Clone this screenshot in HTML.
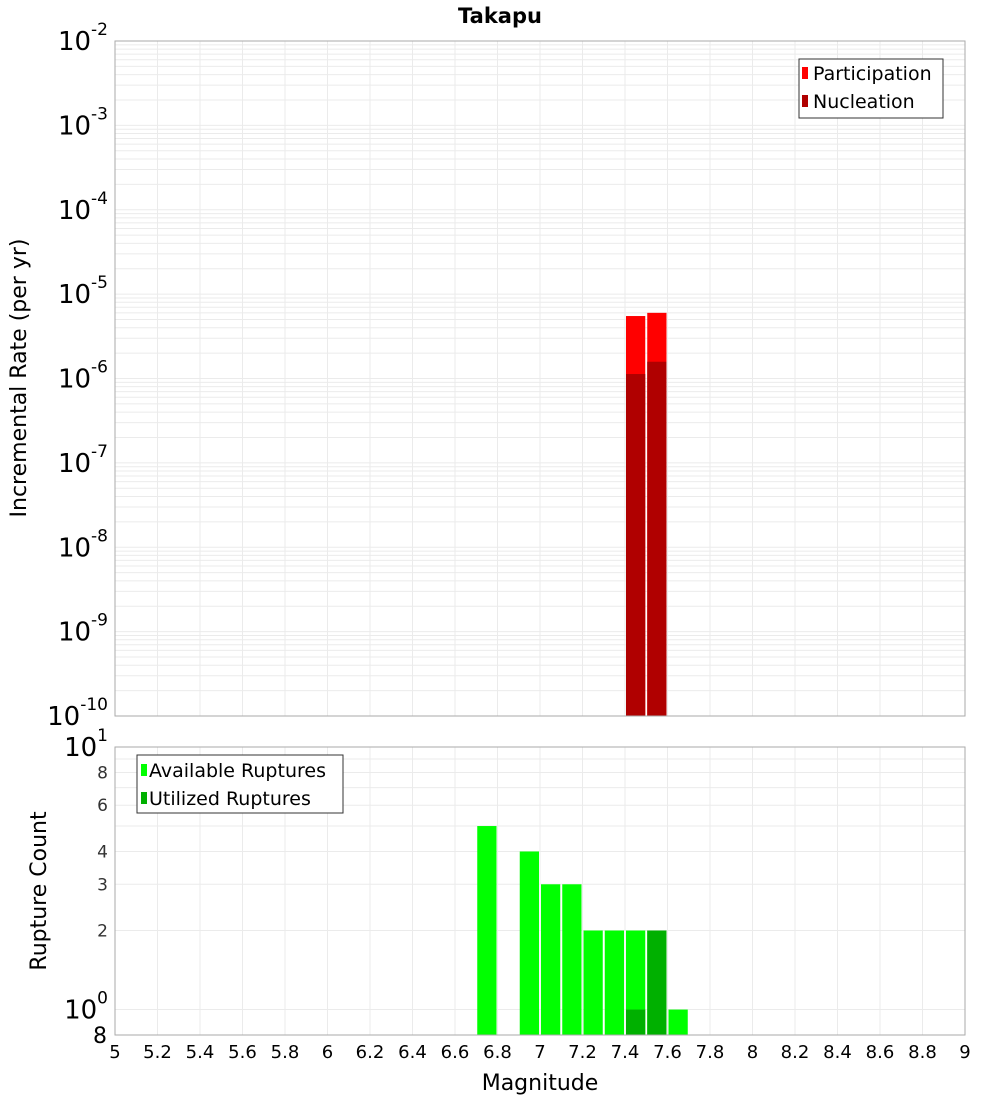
<!DOCTYPE html>
<html><head><meta charset="utf-8"><style>
body{margin:0;background:#fff}
svg{display:block;font-family:"DejaVu Sans","Liberation Sans",sans-serif}
</style></head><body>
<svg id="c" width="1000" height="1100" viewBox="0 0 1000 1100">
<rect width="1000" height="1100" fill="#fff"/>
<text x="500" y="23" text-anchor="middle" font-size="21" font-weight="bold">Takapu</text>
<g id="topg"></g><g id="botg"></g>
<text transform="translate(26,378) rotate(-90)" text-anchor="middle" font-size="22">Incremental Rate (per yr)</text>
<text transform="translate(46,891) rotate(-90)" text-anchor="middle" font-size="22">Rupture Count</text>
<text x="540" y="1090" text-anchor="middle" font-size="22">Magnitude</text>
<g>
<rect x="799" y="59" width="144" height="59" fill="#fff" stroke="#333"/>
<rect x="802" y="67" width="6" height="12" fill="#ff0000"/>
<text x="813" y="80" font-size="19">Participation</text>
<rect x="802" y="95" width="6" height="12" fill="#b00000"/>
<text x="813" y="108" font-size="19">Nucleation</text>
</g>
<g>
<rect x="137" y="755" width="206" height="58" fill="#fff" stroke="#333"/>
<rect x="141" y="764" width="6" height="12" fill="#00ff00"/>
<text x="149" y="777" font-size="19">Available Ruptures</text>
<rect x="141" y="792" width="6" height="12" fill="#00b000"/>
<text x="149" y="805" font-size="19">Utilized Ruptures</text>
</g>
</svg>
<script>
const partMags=[7.45,7.55];
const partVals=[5.5e-6,6.0e-6];
const nuclMags=[7.45,7.55];
const nuclVals=[1.13e-6,1.58e-6];
const availMags=[6.75,6.95,7.05,7.15,7.25,7.35,7.45,7.55,7.65];
const availVals=[5,4,3,3,2,2,2,2,1];
const utilMags=[7.45,7.55];
const utilVals=[1,2];
const xTicks=[5,5.2,5.4,5.6,5.8,6,6.2,6.4,6.6,6.8,7,7.2,7.4,7.6,7.8,8,8.2,8.4,8.6,8.8,9];
const topExps=[-2,-3,-4,-5,-6,-7,-8,-9,-10];
const botMinorTicks=[8,6,4,3,2];

const NS="http://www.w3.org/2000/svg";
const X0=115,X1=965;
const xs=m=>X0+(m-5)/4*(X1-X0);
const TY0=41,TY1=716;
const yT=v=>TY0+(-2-Math.log10(v))/8*(TY1-TY0);
const BY0=747,BY1=1035,BL=Math.log10(0.8);
const yB=v=>BY0+(1-Math.log10(v))/(1-BL)*(BY1-BY0);
function mk(p,t,a){const e=document.createElementNS(NS,t);for(const k in a)e.setAttribute(k,a[k]);p.appendChild(e);return e;}
const gTop=document.getElementById('topg'),gBot=document.getElementById('botg'),svgEl=document.getElementById('c');

for(let e=-10;e<-2;e++)for(let k=1;k<10;k++){const y=yT(k*Math.pow(10,e));
const l=mk(gTop,'line',{x1:X0,x2:X1,y1:y,y2:y,stroke:'#ebebeb','stroke-width':1});

}
for(const t of xTicks){const l=mk(gTop,'line',{x1:xs(t),x2:xs(t),y1:TY0,y2:TY1,stroke:'#ebebeb'});

}
for(const v of [1,2,3,4,5,6,7,8,9]){const y=yB(v);const l=mk(gBot,'line',{x1:X0,x2:X1,y1:y,y2:y,stroke:'#ebebeb'});

}
for(const t of xTicks){const l=mk(gBot,'line',{x1:xs(t),x2:xs(t),y1:BY0,y2:BY1,stroke:'#ebebeb'});

}

function bar(g,m,v,yf,base,fill,name){const xa=xs(m-0.05)+1,xb=xs(m+0.05)-1,y=yf(v);
const r=mk(g,'rect',{x:xa,y:y,width:xb-xa,height:base-y,fill:fill});

}
partMags.forEach((m,i)=>bar(gTop,m,partVals[i],yT,TY1,'#ff0000','participation-bar'));
nuclMags.forEach((m,i)=>bar(gTop,m,nuclVals[i],yT,TY1,'#b00000','nucleation-bar'));
availMags.forEach((m,i)=>bar(gBot,m,availVals[i],yB,BY1,'#00ff00','available-bar'));
utilMags.forEach((m,i)=>bar(gBot,m,utilVals[i],yB,BY1,'#00b000','utilized-bar'));

mk(gTop,'rect',{x:X0,y:TY0,width:X1-X0,height:TY1-TY0,fill:'none',stroke:'#aaa'});
mk(gBot,'rect',{x:X0,y:BY0,width:X1-X0,height:BY1-BY0,fill:'none',stroke:'#aaa'});

for(const e of topExps){const y=yT(Math.pow(10,e));
const t=mk(svgEl,'text',{x:108,y:y+9,'text-anchor':'end','font-size':26});


t.innerHTML='10<tspan dy="-15" font-size="17">'+e+'</tspan>';}
[[10,'1'],[1,'0']].forEach(([v,s])=>{const y=yB(v);
const t=mk(svgEl,'text',{x:108,y:y+9,'text-anchor':'end','font-size':26});


t.innerHTML='10<tspan dy="-15" font-size="17">'+s+'</tspan>';});
for(const v of botMinorTicks){const t=mk(svgEl,'text',{x:108,y:yB(v)+6,'text-anchor':'end','font-size':17,fill:'#333'});


t.textContent=v;}
{const t=mk(svgEl,'text',{x:107,y:1043,'text-anchor':'end','font-size':22});


t.textContent='8';}
for(const v of xTicks){const t=mk(svgEl,'text',{x:xs(v),y:1058,'text-anchor':'middle','font-size':18});


t.textContent=String(v);}
</script>
</body></html>
